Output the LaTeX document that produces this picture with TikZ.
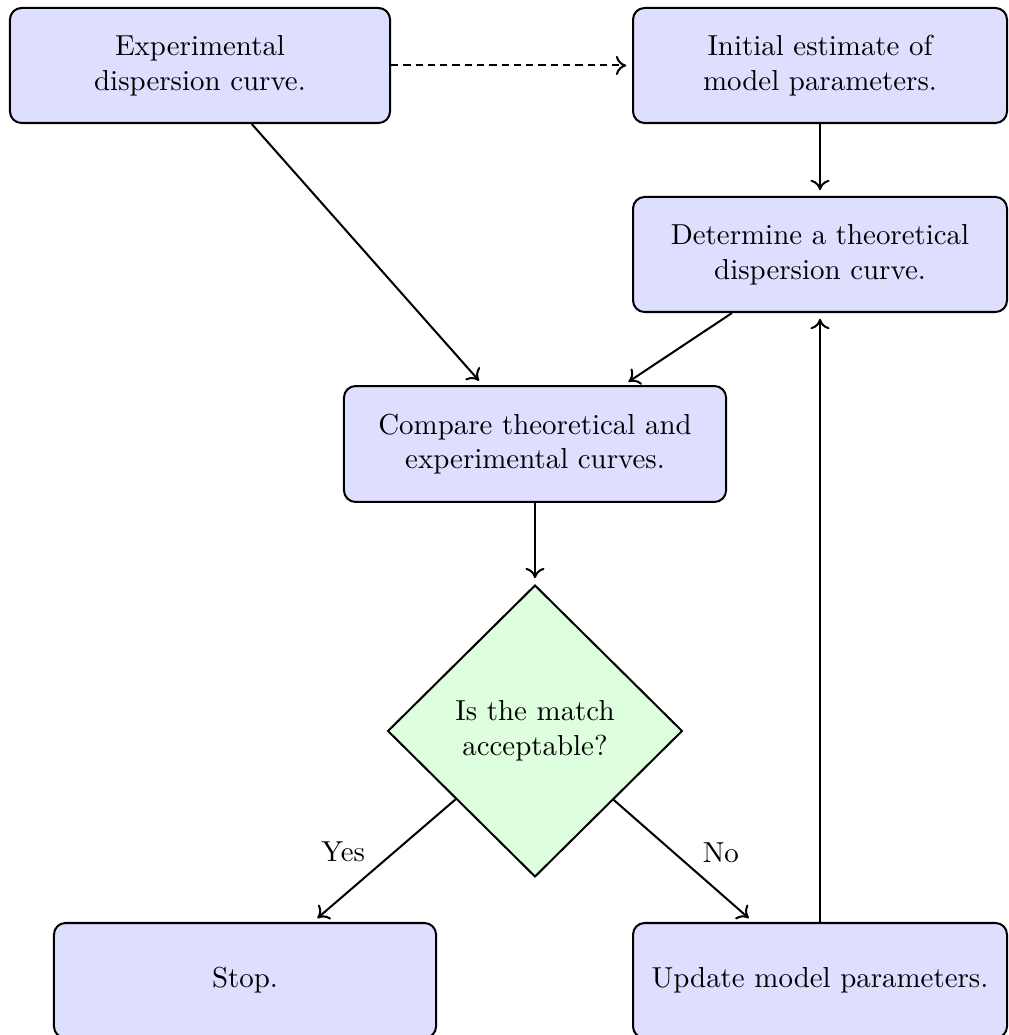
\documentclass[tikz,border=0pt]{standalone}
\usetikzlibrary{shapes.geometric,arrows.meta}
\begin{document}
\begin{tikzpicture}[x=0.346pt, y=-0.346pt,
  every path/.style={line width=0.7pt},
  procbox/.style={draw, line width=0.7pt, rounded corners=4pt, fill=blue!13,
    align=center, inner sep=0pt},
  decbox/.style={draw, line width=0.7pt, diamond, fill=green!13, align=center,
    inner sep=0pt, minimum width=102pt, minimum height=101pt},
  flow/.style={-{To[length=3.6pt, width=6.6pt]}, line width=0.7pt, shorten >=2pt},
  hint/.style={flow, dash pattern=on 2.5pt off 1.75pt}]
  \useasboundingbox (0,0) rectangle (1008,1035);

  \node[procbox, minimum width=131.5pt, minimum height=39.8pt] (exp) at (200,65.5)
    {Experimental\\dispersion curve.};
  \node[procbox, minimum width=129.4pt, minimum height=39.8pt] (init) at (820,65.5)
    {Initial estimate of\\model parameters.};
  \node[procbox, minimum width=129.4pt, minimum height=39.8pt] (theo) at (820,254.5)
    {Determine a theoretical\\dispersion curve.};
  \node[procbox, minimum width=132.2pt, minimum height=40.1pt] (cmp) at (535,444)
    {Compare theoretical and\\experimental curves.};
  \node[decbox] (dec) at (535,731) {Is the match\\acceptable?};
  \node[procbox, minimum width=132.2pt, minimum height=39.8pt] (stop) at (245,980.5)
    {Stop.};
  \node[procbox, minimum width=129.4pt, minimum height=39.8pt] (upd) at (820,980.5)
    {Update model parameters.};

  \draw[hint] (exp) -- (init);
  \draw[flow] (init) -- (theo);
  \draw[flow] (exp) -- (cmp);
  \draw[flow] (theo) -- (cmp);
  \draw[flow] (cmp) -- (dec);
  \draw[flow] (dec) -- node[midway, left, xshift=-3pt, yshift=3pt] {Yes} (stop);
  \draw[flow] (dec) -- node[midway, right, xshift=3pt, yshift=3pt] {No} (upd);
  \draw[flow] (upd) -- (theo);
\end{tikzpicture}
\end{document}
